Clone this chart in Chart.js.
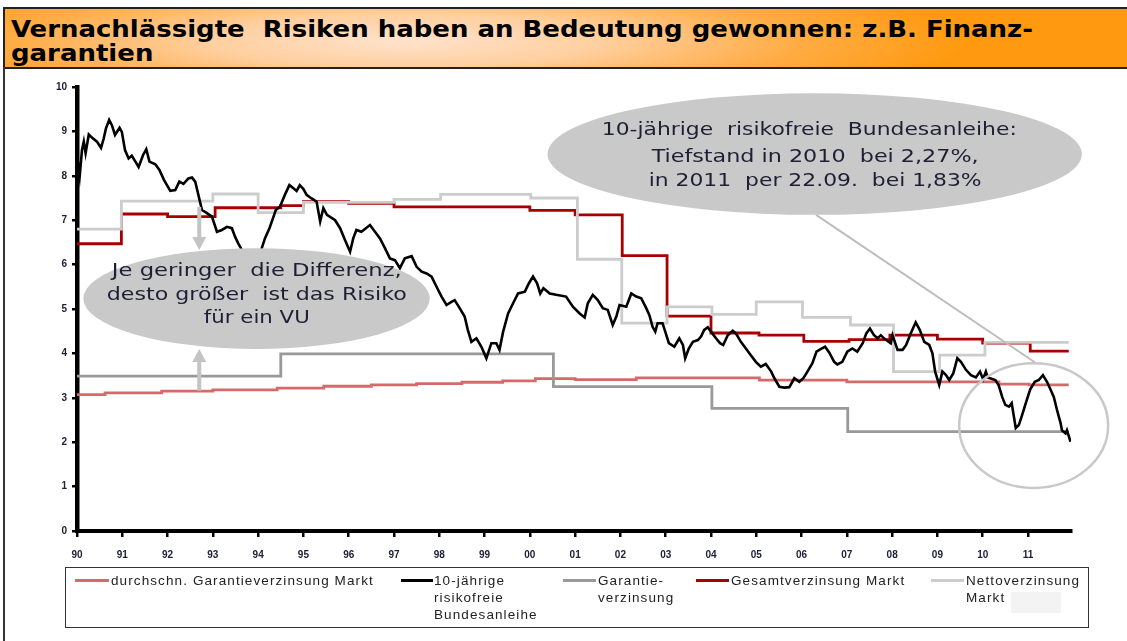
<!DOCTYPE html>
<html><head><meta charset="utf-8">
<script src="https://cdn.jsdelivr.net/npm/chart.js@4/dist/chart.umd.min.js"></script>
<style>
html,body{margin:0;padding:0;background:#fff;}
body{width:1127px;height:641px;position:relative;overflow:hidden;font-family:"Liberation Sans",Arial,sans-serif;}
#titlebar{position:absolute;left:3px;top:7px;width:1124px;height:58px;border-top:2px solid #222;border-bottom:2px solid #222;border-left:2px solid #222;
background:radial-gradient(ellipse 560px 75px at 400px 55%, #ffe2cc 0%, #ffcf9f 35%, #ffac45 70%, #ff9a10 100%);}
#title{position:absolute;left:6px;top:8px;font-family:"DejaVu Sans Condensed","DejaVu Sans",sans-serif;font-weight:bold;font-size:23px;line-height:24px;color:#000;white-space:nowrap;transform-origin:0 0;}
#frameL{position:absolute;left:3px;top:67px;width:2px;height:574px;background:#333;}
#c{position:absolute;left:0;top:0;}
#legend{position:absolute;left:65px;top:567px;width:1024px;height:61px;border:1.5px solid #333;box-sizing:border-box;}
.sw{position:absolute;height:3px;top:11px;}
.lt{position:absolute;top:4px;font-size:13.5px;line-height:17px;color:#222;letter-spacing:1.1px;white-space:nowrap;}
#blank{position:absolute;left:945px;top:24px;width:50px;height:21px;background:#f3f3f3;}
</style></head>
<body>
<div id="titlebar"><div id="title">Vernachlässigte&nbsp; Risiken haben an Bedeutung gewonnen: z.B. Finanz-<br>garantien</div></div>
<div id="frameL"></div>
<canvas id="c" width="1127" height="641"></canvas>
<div id="legend">
  <div class="sw" style="left:9px;width:34px;background:#d66a6a"></div>
  <div class="lt" style="left:45px">durchschn. Garantieverzinsung Markt</div>
  <div class="sw" style="left:335px;width:32px;background:#000"></div>
  <div class="lt" style="left:368px">10-jährige<br>risikofreie<br>Bundesanleihe</div>
  <div class="sw" style="left:497px;width:33px;background:#999"></div>
  <div class="lt" style="left:532px">Garantie-<br>verzinsung</div>
  <div class="sw" style="left:630px;width:33px;background:#a80000"></div>
  <div class="lt" style="left:665px">Gesamtverzinsung Markt</div>
  <div class="sw" style="left:865px;width:33px;background:#cccccc"></div>
  <div class="lt" style="left:900px">Nettoverzinsung<br>Markt</div>
  <div id="blank"></div>
</div>
<script>
// ---------- DATA ----------
const xTickLabels = ["90","91","92","93","94","95","96","97","98","99","00","01","02","03","04","05","06","07","08","09","10","11"];
const yTickLabels = ["0","1","2","3","4","5","6","7","8","9","10"];

const seriesNames = ["10-jährige risikofreie Bundesanleihe","Nettoverzinsung Markt","Gesamtverzinsung Markt","Garantieverzinsung","durchschn. Garantieverzinsung Markt"];

// 10-jährige risikofreie Bundesanleihe
const bundX = [1990.00,1990.02,1990.06,1990.11,1990.15,1990.19,1990.26,1990.33,1990.44,1990.53,1990.59,1990.64,1990.71,1990.77,1990.84,1990.94,1990.99,
1991.06,1991.14,1991.21,1991.29,1991.36,1991.46,1991.53,1991.60,1991.73,1991.82,1991.92,1992.06,1992.17,1992.26,1992.35,1992.46,1992.54,1992.61,1992.68,1992.76,1992.87,1992.98,
1993.09,1993.20,1993.31,1993.42,1993.49,1993.56,1993.62,1993.75,1993.90,1994.02,1994.08,1994.15,1994.25,1994.34,1994.39,1994.48,1994.59,1994.69,1994.78,1994.85,1994.92,
1995.00,1995.07,1995.18,1995.29,1995.37,1995.44,1995.52,1995.70,1995.81,1995.92,1996.03,1996.10,1996.17,1996.28,1996.47,1996.58,1996.69,1996.80,1996.91,
1997.02,1997.13,1997.24,1997.39,1997.50,1997.61,1997.72,1997.83,1997.94,1998.05,1998.16,1998.27,1998.34,1998.45,1998.56,1998.63,1998.71,1998.82,1998.93,
1999.04,1999.15,1999.26,1999.33,1999.41,1999.52,1999.63,1999.74,1999.89,1999.98,2000.07,2000.16,2000.23,2000.30,2000.44,2000.58,2000.80,2000.95,
2001.10,2001.21,2001.28,2001.39,2001.50,2001.61,2001.72,2001.83,2001.91,2001.98,2002.13,2002.24,2002.35,2002.46,2002.57,2002.64,2002.71,2002.77,2002.82,2002.93,2002.99,
2003.07,2003.19,2003.30,2003.38,2003.43,2003.51,2003.60,2003.71,2003.78,2003.85,2003.93,2004.00,2004.11,2004.20,2004.27,2004.37,2004.48,2004.55,2004.66,2004.77,2004.88,2004.99,
2005.10,2005.21,2005.33,2005.40,2005.51,2005.62,2005.73,2005.84,2005.95,2006.04,2006.13,2006.24,2006.33,2006.43,2006.52,2006.61,2006.72,2006.79,2006.90,
2007.01,2007.12,2007.23,2007.35,2007.43,2007.51,2007.60,2007.68,2007.75,2007.82,2007.97,2008.01,2008.12,2008.23,2008.31,2008.41,2008.52,2008.61,2008.71,2008.82,2008.89,2008.95,
2009.04,2009.11,2009.19,2009.26,2009.35,2009.44,2009.52,2009.63,2009.74,2009.85,2009.94,2010.01,2010.07,2010.11,2010.28,2010.35,2010.43,2010.50,2010.58,2010.64,2010.69,2010.73,2010.80,2010.87,2010.96,
2011.05,2011.15,2011.24,2011.33,2011.42,2011.50,2011.57,2011.64,2011.72,2011.75,2011.83,2011.86,2011.94];
const bundY = [7.87,8.32,8.00,8.58,8.77,8.51,8.93,8.86,8.77,8.63,8.84,9.07,9.26,9.14,8.92,9.08,8.99,
8.58,8.39,8.45,8.32,8.20,8.47,8.60,8.32,8.26,8.13,7.91,7.66,7.68,7.87,7.82,7.94,7.96,7.87,7.57,7.23,7.16,7.08,
6.74,6.78,6.85,6.82,6.63,6.48,6.37,6.00,5.60,5.90,6.37,6.59,6.82,7.08,7.23,7.30,7.57,7.79,7.72,7.66,7.79,
7.70,7.57,7.49,7.42,6.97,7.27,7.12,7.00,6.82,6.55,6.29,6.59,6.78,6.74,6.89,6.74,6.59,6.37,6.14,
6.10,5.92,6.14,6.19,5.95,5.84,5.80,5.73,5.50,5.28,5.09,5.16,5.20,5.02,4.83,4.53,4.26,4.34,4.15,
3.89,4.23,4.23,4.08,4.49,4.90,5.13,5.35,5.39,5.58,5.73,5.58,5.35,5.47,5.35,5.32,5.28,5.05,
4.90,4.81,5.13,5.32,5.20,5.02,4.98,4.64,4.83,5.09,5.05,5.35,5.28,5.24,5.02,4.86,4.60,4.49,4.68,4.68,4.49,
4.23,4.15,4.34,4.19,3.89,4.11,4.26,4.30,4.38,4.53,4.59,4.49,4.34,4.23,4.19,4.41,4.51,4.45,4.26,4.11,3.96,3.81,
3.70,3.76,3.59,3.44,3.25,3.23,3.24,3.44,3.36,3.44,3.59,3.78,4.04,4.10,4.15,4.02,3.81,3.75,3.81,
4.04,4.11,4.04,4.23,4.45,4.56,4.41,4.34,4.41,4.34,4.23,4.41,4.08,4.08,4.19,4.45,4.70,4.53,4.26,4.19,4.00,3.59,
3.29,3.59,3.51,3.40,3.55,3.89,3.81,3.63,3.51,3.46,3.59,3.42,3.59,3.46,3.40,3.29,3.02,2.84,2.80,2.88,2.57,2.32,2.39,2.61,2.91,
3.19,3.36,3.40,3.51,3.36,3.18,3.02,2.73,2.43,2.27,2.20,2.27,2.01];

// Nettoverzinsung Markt (step values, each holds from its date on)
const nettoX = [1990.00,1990.98,1993.00,1994.00,1995.00,1997.00,1998.03,2000.02,2001.05,2002.03,2003.03,2004.02,2005.00,2006.02,2007.08,2008.03,2009.05,2010.05,2011.90];
const nettoY = [6.80,7.43,7.59,7.17,7.40,7.47,7.58,7.50,6.12,4.68,5.05,4.88,5.16,4.81,4.64,3.59,3.96,4.25,4.25];

// Gesamtverzinsung Markt
const gesamtX = [1990.00,1990.98,1992.00,1993.05,1994.50,1995.00,1996.00,1997.00,2000.00,2001.00,2002.04,2003.03,2004.00,2005.06,2006.05,2007.05,2007.95,2009.00,2010.00,2011.05,2011.90];
const gesamtY = [6.47,7.14,7.08,7.28,7.33,7.42,7.38,7.30,7.22,7.12,6.20,4.84,4.46,4.41,4.27,4.31,4.41,4.32,4.23,4.05,4.05];

// Garantieverzinsung
const garantieX = [1990.00,1994.50,2000.52,2004.02,2007.02,2011.90];
const garantieY = [3.49,3.99,3.25,2.76,2.24,2.24];

// durchschn. Garantieverzinsung Markt
const durchX = [1990.00,1990.62,1991.87,1993.00,1994.42,1995.45,1996.50,1997.50,1998.50,1999.40,2000.12,2001.00,2002.35,2005.07,2007.00,2010.36,2011.02,2011.90];
const durchY = [3.07,3.11,3.15,3.18,3.22,3.26,3.29,3.32,3.35,3.38,3.43,3.41,3.45,3.40,3.36,3.31,3.29,3.29];

const calloutLeft = ["Je geringer  die Differenz,","desto größer  ist das Risiko","für ein VU"];
const calloutRight = ["10-jährige  risikofreie  Bundesanleihe:","Tiefstand in 2010  bei 2,27%,","in 2011  per 22.09.  bei 1,83%"];

// ---------- BUILD ----------
const pts = (xs, ys) => xs.map((x, i) => ({x: x, y: ys[i]}));

// title width fit
(function(){
  const t = document.getElementById('title');
  const line1 = document.createElement('span');
  line1.style.cssText = 'position:absolute;visibility:hidden;white-space:nowrap;font:bold 23px "DejaVu Sans Condensed","DejaVu Sans",sans-serif;';
  line1.innerHTML = 'Vernachlässigte&nbsp; Risiken haben an Bedeutung gewonnen: z.B. Finanz-';
  document.body.appendChild(line1);
  const w = line1.getBoundingClientRect().width;
  t.style.transform = 'scaleX(' + (1022 / w) + ')';
  line1.remove();
})();

const annot = {
  id: 'annot',
  afterDatasetsDraw(chart) {
    const ctx = chart.ctx, sx = chart.scales.x, sy = chart.scales.y;
    const X = v => sx.getPixelForValue(v), Y = v => sy.getPixelForValue(v);
    ctx.save();
    const ellipse = (x0, x1, y0, y1) => {
      const cx = (X(x0) + X(x1)) / 2, cy = (Y(y0) + Y(y1)) / 2;
      const rx = Math.abs(X(x1) - X(x0)) / 2, ry = Math.abs(Y(y1) - Y(y0)) / 2;
      ctx.beginPath(); ctx.ellipse(cx, cy, rx, ry, 0, 0, Math.PI * 2);
      return {cx, cy};
    };
    const fitLine = (txt, px, targetW, cx, cy) => {
      ctx.font = px + 'px "DejaVu Sans", Verdana, sans-serif';
      const w = ctx.measureText(txt).width;
      ctx.save(); ctx.translate(cx, cy); ctx.scale(targetW / w, 1);
      ctx.fillText(txt, 0, 0); ctx.restore();
    };
    // pointer line to circle
    ctx.strokeStyle = '#bdbdbd'; ctx.lineWidth = 2;
    ctx.beginPath(); ctx.moveTo(X(2006.32), Y(7.12)); ctx.lineTo(X(2011.15), Y(3.80)); ctx.stroke();
    // left callout
    ctx.fillStyle = '#c9c9c9';
    ellipse(1990.14, 1997.79, 6.37, 4.10); ctx.fill();
    ctx.fillStyle = '#1e1e34'; ctx.textAlign = 'center'; ctx.textBaseline = 'middle';
    fitLine(calloutLeft[0], 17, 290, X(1993.97), Y(5.84));
    fitLine(calloutLeft[1], 17, 300, X(1993.97), Y(5.30));
    fitLine(calloutLeft[2], 17, 106, X(1993.97), Y(4.78));
    // right callout
    ctx.fillStyle = '#c9c9c9';
    ellipse(2000.39, 2012.19, 9.86, 7.12); ctx.fill();
    ctx.fillStyle = '#1e1e34';
    fitLine(calloutRight[0], 18, 415, X(2006.17), Y(9.03));
    fitLine(calloutRight[1], 18, 327, X(2006.3), Y(8.42));
    fitLine(calloutRight[2], 18, 333, X(2006.3), Y(7.88));
    // circle
    ctx.strokeStyle = '#c8c8c8'; ctx.lineWidth = 2.5;
    ellipse(2009.48, 2012.77, 3.78, 0.97); ctx.stroke();
    // arrows
    const arrow = (xv, yFrom, yTo) => {
      const x = X(xv), y0 = Y(yFrom), y1 = Y(yTo), dir = Math.sign(y1 - y0);
      ctx.fillStyle = '#c4c4c4';
      ctx.fillRect(x - 2, Math.min(y0, y1 - dir * 12), 4, Math.abs(y1 - dir * 12 - y0));
      ctx.beginPath(); ctx.moveTo(x - 7, y1 - dir * 13); ctx.lineTo(x + 7, y1 - dir * 13); ctx.lineTo(x, y1); ctx.closePath(); ctx.fill();
    };
    arrow(1992.70, 7.30, 6.33);
    arrow(1992.70, 3.16, 4.10);
    ctx.restore();
  }
};

const lw = 2.8;
new Chart(document.getElementById('c'), {
  type: 'line',
  data: {
    datasets: [
      {label: seriesNames[0], data: pts(bundX, bundY), borderColor: '#000', borderWidth: 2.6, pointRadius: 0, tension: 0},
      {label: seriesNames[1], data: pts(nettoX, nettoY), borderColor: '#cccccc', borderWidth: lw, pointRadius: 0, stepped: true},
      {label: seriesNames[2], data: pts(gesamtX, gesamtY), borderColor: '#a80000', borderWidth: lw, pointRadius: 0, stepped: true},
      {label: seriesNames[3], data: pts(garantieX, garantieY), borderColor: '#999999', borderWidth: lw, pointRadius: 0, stepped: true},
      {label: seriesNames[4], data: pts(durchX, durchY), borderColor: '#d66a6a', borderWidth: lw, pointRadius: 0, stepped: true}
    ]
  },
  options: {
    responsive: false, animation: false, devicePixelRatio: 1,
    layout: {padding: {left: 0, top: 87, right: 56, bottom: 70}},
    plugins: {legend: {display: false}, tooltip: {enabled: false}},
    scales: {
      x: {
        type: 'linear', min: 1990, max: 2011.95,
        border: {display: true, color: '#000', width: 4},
        grid: {display: true, drawOnChartArea: false, drawTicks: true, tickLength: 6, color: '#000', lineWidth: 2.5},
        ticks: {stepSize: 1, includeBounds: false, autoSkip: false, maxRotation: 0, padding: 12,
          color: '#20203a', font: {family: '"Liberation Sans", Arial, sans-serif', weight: 'bold', size: 10},
          callback: v => xTickLabels[Math.round(v - 1990)] ?? ''},
        afterFit: s => { s.height = 40; s.paddingLeft = 0; s.paddingRight = 0; }
      },
      y: {
        min: 0, max: 10,
        border: {display: true, color: '#000', width: 4.5},
        grid: {display: true, drawOnChartArea: false, drawTicks: true, tickLength: 5, color: '#000', lineWidth: 2.5},
        ticks: {stepSize: 1, padding: 5, color: '#20203a', font: {family: '"Liberation Sans", Arial, sans-serif', weight: 'bold', size: 10},
          callback: v => yTickLabels[v]},
        afterFit: s => { s.width = 77; s.paddingTop = 0; s.paddingBottom = 0; }
      }
    }
  },
  plugins: [annot]
});
</script>
</body></html>
